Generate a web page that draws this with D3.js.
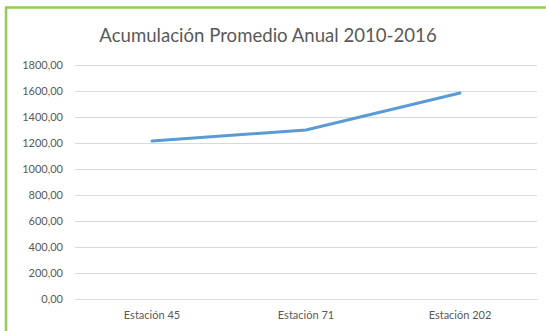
<!DOCTYPE html>
<html>
<head>
<meta charset="utf-8">
<script src="https://cdn.jsdelivr.net/npm/d3@7"></script>
<style>
  body { margin: 0; background: #fff; }
  svg { display: block; font-family: Lato, "Open Sans", sans-serif; }
</style>
</head>
<body>
<div id="chart"></div>
<script>
const estaciones = ['Estación 45', 'Estación 71', 'Estación 202'];
const acumulacion = [1215, 1300, 1585];
const yTicks = [0, 200, 400, 600, 800, 1000, 1200, 1400, 1600, 1800];
const titulo = 'Acumulación Promedio Anual 2010-2016';

const W = 546;
const H = 331;
const margin = { top: 65, right: 9, bottom: 32, left: 75 };
const width = W - margin.left - margin.right;
const height = H - margin.top - margin.bottom;

const svg = d3.select('#chart').append('svg')
  .attr('width', W)
  .attr('height', H);

// green frame (left + top only, as in the picture)
svg.append('path')
  .attr('d', `M6,${H} V7.5 H${W}`)
  .attr('fill', 'none')
  .attr('stroke', '#92d050')
  .attr('stroke-width', 2.5);

svg.append('text')
  .attr('x', 268)
  .attr('y', 42)
  .attr('text-anchor', 'middle')
  .attr('font-size', 18.6)
  .attr('fill', '#595959')
  .text(titulo);

const g = svg.append('g')
  .attr('transform', `translate(${margin.left},${margin.top})`);

const x = d3.scaleBand().domain(estaciones).range([0, width]);
const y = d3.scaleLinear().domain([0, 1800]).range([height, 0]);

const fmt = d => d3.format('.2f')(d).replace('.', ',');

const yAxis = g.append('g')
  .call(d3.axisLeft(y).tickValues(yTicks).tickSize(-width).tickFormat(fmt).tickPadding(12));
yAxis.select('.domain').remove();
yAxis.selectAll('line').attr('stroke', '#d9d9d9');
yAxis.selectAll('text')
  .attr('fill', '#595959')
  .attr('font-size', 11)
  .attr('font-family', 'Lato, "Open Sans", sans-serif');

const xAxis = g.append('g')
  .attr('transform', `translate(0,${height})`)
  .call(d3.axisBottom(x).tickSize(0).tickPadding(12));
xAxis.select('.domain').attr('stroke', '#d9d9d9');
xAxis.selectAll('text')
  .attr('fill', '#595959')
  .attr('font-size', 11)
  .attr('font-family', 'Lato, "Open Sans", sans-serif');

const valueline = d3.line()
  .x((d, i) => x(estaciones[i]) + x.bandwidth() / 2)
  .y(d => y(d));

g.append('path')
  .datum(acumulacion)
  .attr('fill', 'none')
  .attr('stroke', '#5b9bd5')
  .attr('stroke-width', 3)
  .attr('stroke-linecap', 'round')
  .attr('d', valueline);
</script>
</body>
</html>
